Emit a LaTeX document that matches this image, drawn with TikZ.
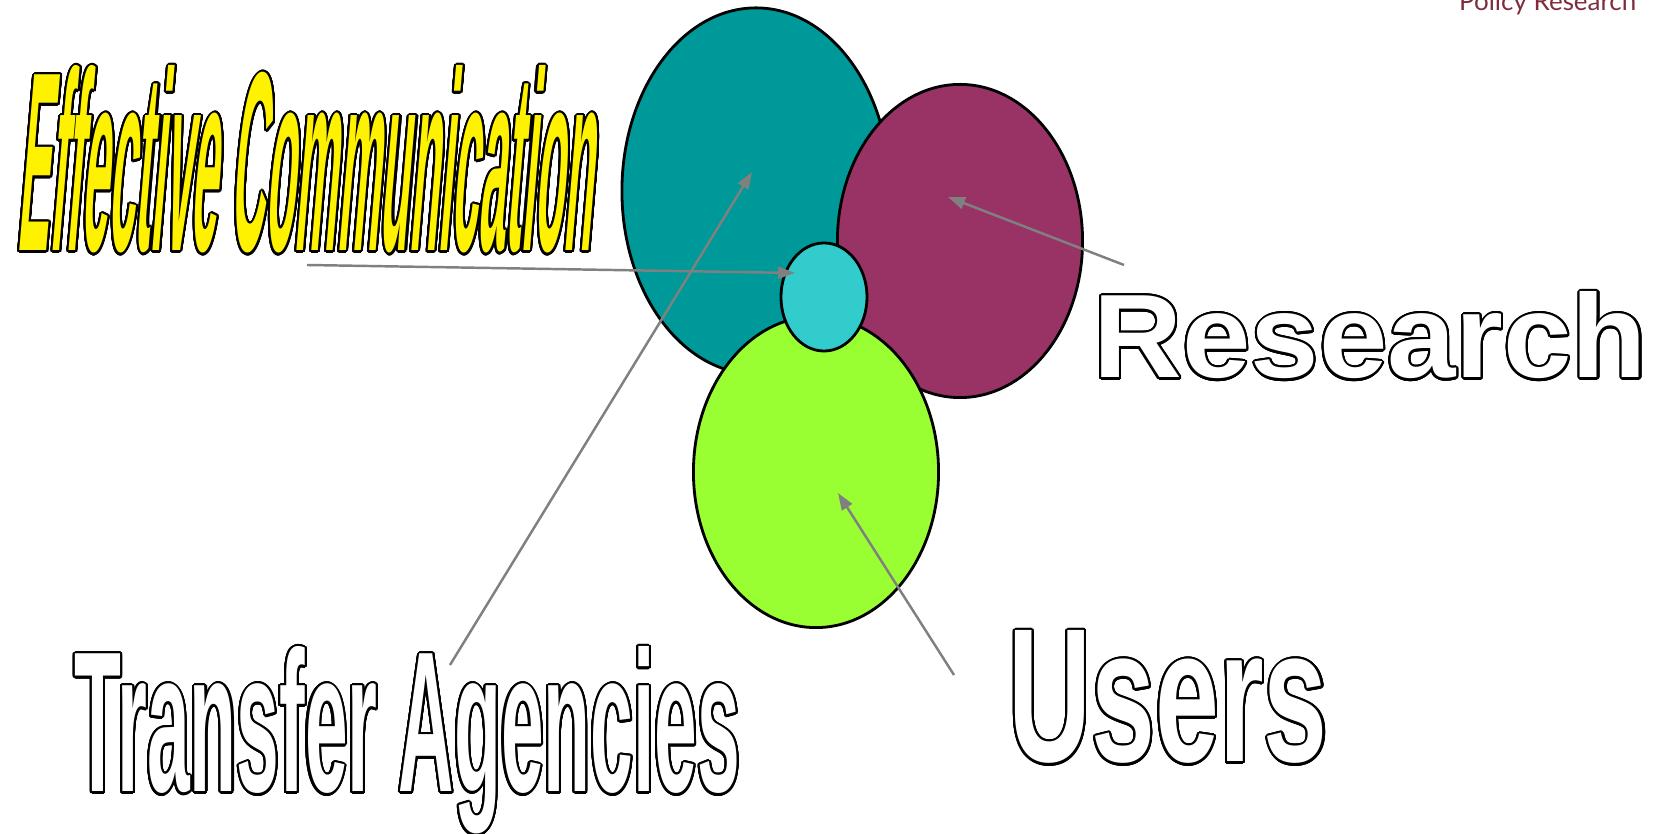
\documentclass[tikz,border=0pt]{standalone}
\usepackage{fontspec}
\setmainfont{Liberation Sans}
\newfontfamily\gillfont{Lato}
\usepackage{contour}
\contourlength{0.6pt}
\contournumber{32}
\usetikzlibrary{arrows.meta,shapes.geometric}

\definecolor{blobteal}{HTML}{009999}
\definecolor{blobmaroon}{HTML}{993366}
\definecolor{blobgreen}{HTML}{99FF33}
\definecolor{blobcyan}{HTML}{33CCCC}
\definecolor{policyred}{HTML}{7D2D3B}

% fill colour, width, height, text
\def\wordart#1#2#3#4{\textcolor{#1}{\contour{black}{\resizebox{#2}{#3}{\bfseries #4}}}}

\tikzset{
  blob/.style={ellipse, draw=black, line width=0.8pt, inner sep=0pt},
  pointer/.style={draw=gray, line width=0.7pt, -{Triangle[length=0.17cm,width=0.12cm]}},
  wordnode/.style={inner sep=0pt, anchor=base west}
}

\begin{document}
\begin{tikzpicture}[x=0.01cm, y=-0.01cm]
			%%%%% START %%%%%
			\useasboundingbox (0, 0) rectangle (1662, 834);
			
			\node[blob, fill=blobteal, minimum width=2.68cm, minimum height=3.66cm] (teal) at (756, 191) {};
			\node[blob, fill=blobmaroon, minimum width=2.45cm, minimum height=3.13cm] (maroon) at (960, 241) {};
			\node[blob, fill=blobgreen, minimum width=2.45cm, minimum height=3.11cm] (green) at (816, 472) {};
			\node[blob, fill=blobcyan, minimum width=0.86cm, minimum height=1.08cm] (cyan) at (824, 297) {};
			
			\node[wordnode, xslant=0.085, transform shape] (effective) at (16, 251) {\wordart{yellow}{5.75cm}{1.85cm}{Effective Communication}};
			\node[wordnode] (research) at (1093, 378) {\wordart{white}{5.53cm}{0.86cm}{Research}};
			\node[wordnode] (transfer) at (74, 792) {\wordart{white}{6.65cm}{1.45cm}{Transfer Agencies}};
			\node[wordnode] (users) at (1008, 762) {\wordart{white}{3.19cm}{1.31cm}{Users}};
			
			\node[inner sep=0pt, anchor=base east, text=policyred] (policy) at (1637, 11) {\resizebox{1.77cm}{!}{\gillfont Policy Research}};
			
			\coordinate (effective end) at (307, 265);
			\coordinate (cyan tip) at (795, 273);
			\coordinate (transfer end) at (450, 665);
			\coordinate (teal tip) at (752, 172);
			\coordinate (research end) at (1124, 265);
			\coordinate (maroon tip) at (948, 197);
			\coordinate (users end) at (954, 675);
			\coordinate (green tip) at (838, 493);
			
			\draw[pointer] (effective end) -- (cyan tip);
			\draw[pointer] (transfer end) -- (teal tip);
			\draw[pointer] (research end) -- (maroon tip);
			\draw[pointer] (users end) -- (green tip);
			
			%%%%% END %%%%%
\end{tikzpicture}
\end{document}
